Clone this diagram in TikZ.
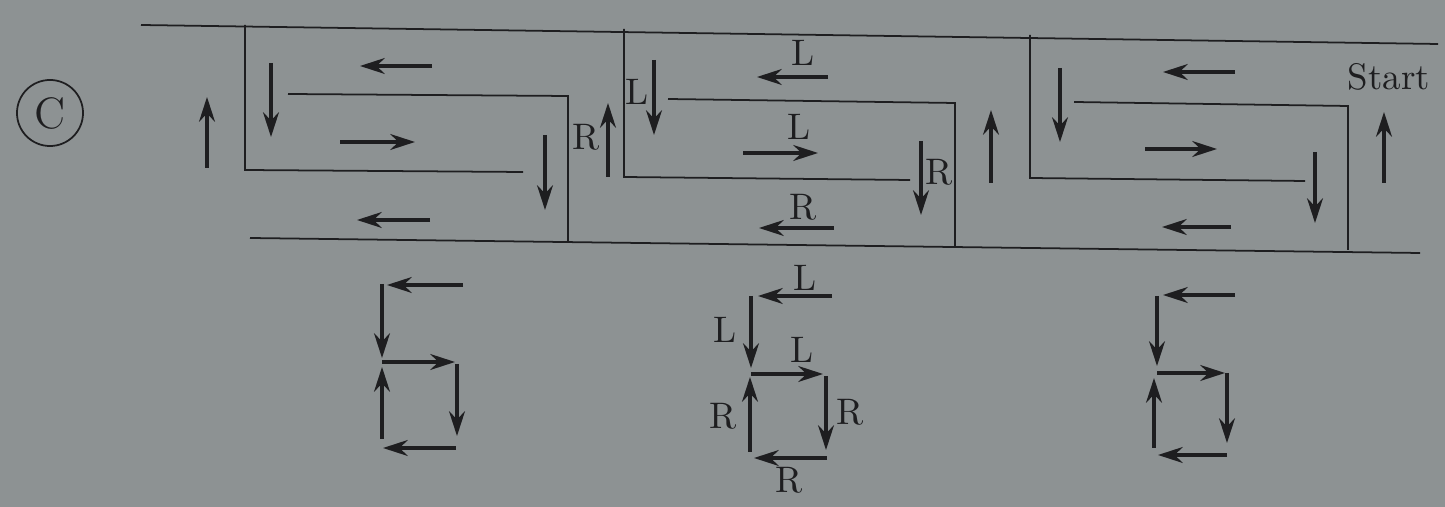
\documentclass[tikz,border=0pt]{standalone}
\usetikzlibrary{arrows.meta}
\definecolor{ink}{RGB}{30,30,32}
\definecolor{paper}{RGB}{141,146,147}
\begin{document}
\begin{tikzpicture}[>={Stealth[length=7pt,width=4.5pt]}, x=0.01cm, y=-0.01cm,
  wall/.style={ink, line width=0.5pt},
  flow/.style={->, ink, line width=0.95pt},
  lbl/.style={ink, font=\fontsize{10.5}{12}\selectfont, inner sep=0pt}]

\fill[paper] (0,0) rectangle (1445,507);
\useasboundingbox (0,0) rectangle (1445,507);

% oznaceni
\node[circle, draw=ink, line width=0.5pt, minimum size=0.66cm, inner sep=0pt,
      font=\fontsize{12.5}{14}\selectfont, text=ink] (tag) at (50,113) {C};

% steny
\draw[wall] (141,25) -- (1438,44);
\draw[wall] (250,238) -- (1420,253);
\draw[wall] (245,25) -- (245,170) -- (523,172);
\draw[wall] (288,94) -- (568,96) -- (568,242);
\draw[wall] (624,29) -- (624,177) -- (910,180);
\draw[wall] (668,99) -- (955,103) -- (955,247);
\draw[wall] (1030,35) -- (1030,178) -- (1305,181);
\draw[wall] (1074,102) -- (1348,106) -- (1348,250);

% sipky v bludisti
\draw[flow] (207,168) -- (207,97);
\draw[flow] (271,63) -- (271,137);
\draw[flow] (432,66) -- (360,66);
\draw[flow] (340,142) -- (415,142);
\draw[flow] (430,220) -- (357,220);
\draw[flow] (545,135) -- (545,210);
\draw[flow] (608,177) -- (608,103);
\draw[flow] (654,60) -- (654,135);
\draw[flow] (828,77) -- (757,77);
\draw[flow] (743,153) -- (818,153);
\draw[flow] (921,141) -- (921,215);
\draw[flow] (834,228) -- (759,228);
\draw[flow] (991,183) -- (991,110);
\draw[flow] (1060,68) -- (1060,142);
\draw[flow] (1235,72) -- (1163,72);
\draw[flow] (1145,149) -- (1217,149);
\draw[flow] (1231,227) -- (1162,227);
\draw[flow] (1315,152) -- (1315,223);
\draw[flow] (1384,183) -- (1384,112);

% popisky v bludisti
\node[lbl] (r1) at (586,137) {R};
\node[lbl] (l1) at (637,92) {L};
\node[lbl] (l2) at (803,53) {L};
\node[lbl] (l3) at (799,127) {L};
\node[lbl] (r2) at (939,172) {R};
\node[lbl] (r3) at (803,207) {R};
\node[lbl] (start) at (1389,77) {Start};

% levy obrazec
\draw[flow] (463,285) -- (387,285);
\draw[flow] (382,284) -- (382,358);
\draw[flow] (382,362) -- (455,362);
\draw[flow] (382,439) -- (382,367);
\draw[flow] (457,364) -- (457,436);
\draw[flow] (456,448) -- (383,448);

% prostredni obrazec
\draw[flow] (832,296) -- (758,296);
\draw[flow] (751,296) -- (751,368);
\draw[flow] (751,374) -- (823,374);
\draw[flow] (750,452) -- (750,377);
\draw[flow] (826,376) -- (826,450);
\draw[flow] (827,458) -- (754,458);
\node[lbl] (ml1) at (805,278) {L};
\node[lbl] (ml2) at (725,330) {L};
\node[lbl] (ml3) at (802,350) {L};
\node[lbl] (mr1) at (723,416) {R};
\node[lbl] (mr2) at (850,412) {R};
\node[lbl] (mr3) at (789,480) {R};

% pravy obrazec
\draw[flow] (1235,295) -- (1163,295);
\draw[flow] (1157,296) -- (1157,366);
\draw[flow] (1157,373) -- (1225,373);
\draw[flow] (1154,448) -- (1154,378);
\draw[flow] (1227,373) -- (1227,443);
\draw[flow] (1227,455) -- (1158,455);

\end{tikzpicture}
\end{document}
